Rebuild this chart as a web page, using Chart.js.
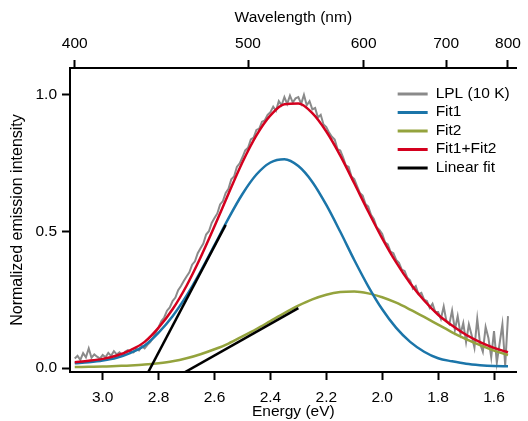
<!DOCTYPE html>
<html>
<head>
<meta charset="utf-8">
<script src="https://cdn.jsdelivr.net/npm/chart.js@4.4.1/dist/chart.umd.min.js"></script>
<style>
  html, body { margin: 0; padding: 0; background: #fff; }
  #wrap { width: 528px; height: 421px; }
</style>
</head>
<body>
<div id="wrap"><canvas id="chart" width="528" height="421"></canvas></div>
<script>
// ---- data (energy in eV, intensity normalized) ----
const LPL_ENERGY = [
  3.10, 3.09, 3.08, 3.07, 3.06, 3.05, 3.04, 3.03, 3.02, 3.01,
  3.00, 2.99, 2.98, 2.97, 2.96, 2.95, 2.94, 2.93, 2.92, 2.91,
  2.90, 2.89, 2.88, 2.87, 2.86, 2.85, 2.84, 2.83, 2.82, 2.81,
  2.80, 2.79, 2.78, 2.77, 2.76, 2.75, 2.74, 2.73, 2.72, 2.71,
  2.70, 2.69, 2.68, 2.67, 2.66, 2.65, 2.64, 2.63, 2.62, 2.61,
  2.60, 2.59, 2.58, 2.57, 2.56, 2.55, 2.54, 2.53, 2.52, 2.51,
  2.50, 2.49, 2.48, 2.47, 2.46, 2.45, 2.44, 2.43, 2.42, 2.41,
  2.40, 2.39, 2.38, 2.37, 2.36, 2.35, 2.34, 2.33, 2.32, 2.31,
  2.30, 2.29, 2.28, 2.27, 2.26, 2.25, 2.24, 2.23, 2.22, 2.21,
  2.20, 2.19, 2.18, 2.17, 2.16, 2.15, 2.14, 2.13, 2.12, 2.11,
  2.10, 2.09, 2.08, 2.07, 2.06, 2.05, 2.04, 2.03, 2.02, 2.01,
  2.00, 1.99, 1.98, 1.97, 1.96, 1.95, 1.94, 1.93, 1.92, 1.91,
  1.90, 1.89, 1.88, 1.87, 1.86, 1.85, 1.84, 1.83, 1.82, 1.81,
  1.80, 1.79, 1.78, 1.77, 1.76, 1.75, 1.74, 1.73, 1.72, 1.71,
  1.70, 1.69, 1.68, 1.67, 1.66, 1.65, 1.64, 1.63, 1.62, 1.61,
  1.60, 1.59, 1.58, 1.57, 1.56, 1.55
];
const LPL_VALUES = [
  0.035, 0.045, 0.030, 0.055, 0.040, 0.072, 0.038, 0.050, 0.042, 0.035,
  0.048, 0.040, 0.056, 0.045, 0.062, 0.050, 0.058, 0.047, 0.060, 0.066,
  0.060, 0.058, 0.070, 0.065, 0.080, 0.072, 0.085, 0.095, 0.110, 0.130,
  0.150, 0.172, 0.185, 0.210, 0.222, 0.245, 0.258, 0.285, 0.300, 0.318,
  0.335, 0.350, 0.378, 0.390, 0.420, 0.438, 0.455, 0.488, 0.500, 0.530,
  0.548, 0.565, 0.598, 0.610, 0.640, 0.655, 0.690, 0.700, 0.735, 0.748,
  0.770, 0.795, 0.805, 0.835, 0.842, 0.870, 0.875, 0.900, 0.905, 0.925,
  0.935, 0.955, 0.940, 0.975, 0.960, 0.990, 0.965, 0.995, 0.970, 0.985,
  0.990, 0.965, 0.998, 0.960, 0.975, 0.945, 0.950, 0.915, 0.925, 0.890,
  0.880, 0.860, 0.845, 0.835, 0.800, 0.795, 0.770, 0.740, 0.735, 0.700,
  0.690, 0.665, 0.640, 0.630, 0.600, 0.590, 0.560, 0.545, 0.515, 0.505,
  0.490, 0.460, 0.452, 0.425, 0.420, 0.395, 0.385, 0.360, 0.355, 0.330,
  0.320, 0.290, 0.300, 0.270, 0.275, 0.250, 0.245, 0.220, 0.235, 0.205,
  0.205, 0.180, 0.225, 0.170, 0.160, 0.210, 0.140, 0.190, 0.125, 0.165,
  0.095, 0.160, 0.120, 0.075, 0.180, 0.090, 0.060, 0.150, 0.110, 0.040,
  0.135, 0.020, 0.090, 0.160, 0.010, 0.190
];

const FIT_ENERGY = [
  3.10, 3.05, 3.00, 2.95, 2.90, 2.85, 2.80, 2.75, 2.70, 2.65, 2.60,
  2.55, 2.50, 2.45, 2.40, 2.35, 2.30, 2.25, 2.20, 2.15, 2.10, 2.05,
  2.00, 1.95, 1.90, 1.85, 1.80, 1.75, 1.70, 1.65, 1.60, 1.55
];
const FIT1_VALUES = [
  0.018, 0.022, 0.028, 0.038, 0.056, 0.083, 0.130, 0.190, 0.265, 0.353, 0.449,
  0.547, 0.636, 0.707, 0.751, 0.763, 0.738, 0.680, 0.596, 0.498, 0.395, 0.299,
  0.215, 0.147, 0.096, 0.060, 0.036, 0.025, 0.016, 0.011, 0.008, 0.007
];
const FIT2_VALUES = [
  0.004, 0.005, 0.006, 0.008, 0.010, 0.013, 0.018, 0.025, 0.036, 0.051, 0.069,
  0.090, 0.116, 0.143, 0.172, 0.201, 0.228, 0.251, 0.268, 0.278, 0.280, 0.273,
  0.259, 0.239, 0.214, 0.187, 0.159, 0.131, 0.106, 0.084, 0.064, 0.048
];
const FIT_SUM_VALUES = [
  0.022, 0.027, 0.034, 0.046, 0.066, 0.096, 0.148, 0.215, 0.301, 0.404, 0.518,
  0.637, 0.752, 0.850, 0.923, 0.964, 0.966, 0.931, 0.864, 0.776, 0.675, 0.572,
  0.474, 0.386, 0.310, 0.247, 0.195, 0.156, 0.122, 0.095, 0.074, 0.058
];

// two tangent lines: [energy, intensity] end points
const LINEAR_FIT_A = [[2.84, -0.02], [2.56, 0.523]];
const LINEAR_FIT_B = [[2.715, -0.02], [2.30, 0.219]];

const ENERGY_TICKS = [3.0, 2.8, 2.6, 2.4, 2.2, 2.0, 1.8, 1.6];
const WAVELENGTH_TICKS = [400, 500, 600, 700, 800];
const INTENSITY_TICKS = [0.0, 0.5, 1.0];

const COLORS = {
  lpl: '#8a8a8a',
  fit1: '#1b75a9',
  fit2: '#94a33d',
  sum: '#d4001e',
  linear: '#000000',
  axis: '#000000',
};

const FONT = '"Liberation Sans", Arial, sans-serif';
const HC = 1240; // eV*nm

function toPoints(xs, ys) {
  return xs.map((x, i) => ({ x, y: ys[i] }));
}
function pairPoints(pairs) {
  return pairs.map(p => ({ x: p[0], y: p[1] }));
}

function lineSet(label, data, color, width, order, smooth) {
  return {
    label,
    data,
    borderColor: color,
    backgroundColor: color,
    borderWidth: width,
    pointRadius: 0,
    fill: false,
    order,
    tension: smooth ? 0.4 : 0,
    cubicInterpolationMode: smooth ? 'monotone' : 'default',
  };
}

// legend drawn inside the plot area, top right
const insideLegend = {
  id: 'insideLegend',
  afterDatasetsDraw(chart) {
    const ctx = chart.ctx;
    const area = chart.chartArea;
    const seen = [];
    chart.data.datasets.forEach(ds => {
      if (!seen.find(s => s.label === ds.label)) seen.push(ds);
    });
    ctx.save();
    ctx.font = '15.5px ' + FONT;
    ctx.textBaseline = 'middle';
    ctx.textAlign = 'left';
    seen.forEach((ds, i) => {
      const y = area.top + 26 + i * 18.5;
      const x = area.right - 119;
      ctx.beginPath();
      ctx.moveTo(x, y);
      ctx.lineTo(x + 30, y);
      ctx.lineWidth = 3;
      ctx.strokeStyle = ds.borderColor;
      ctx.stroke();
      ctx.fillStyle = '#000';
      ctx.fillText(ds.label, x + 38, y - 0.5);
    });
    ctx.restore();
  },
};

function axisStyle(tickPad) {
  return {
    grid: {
      drawOnChartArea: false,
      drawTicks: true,
      tickLength: 8,
      tickWidth: 2,
      tickColor: COLORS.axis,
    },
    border: { display: true, color: COLORS.axis, width: 2 },
    ticks: {
      color: '#000',
      padding: tickPad,
      font: { family: FONT, size: 15.5 },
      maxRotation: 0,
      autoSkip: false,
    },
  };
}

const X_MIN = 1.519, X_MAX = 3.117;

const bottomAxis = axisStyle(8);
Object.assign(bottomAxis, {
  type: 'linear',
  position: 'bottom',
  reverse: true,
  min: X_MIN,
  max: X_MAX,
  afterBuildTicks: s => { s.ticks = ENERGY_TICKS.map(v => ({ value: v })); },
  afterFit: s => { s.height = 49; },
  title: {
    display: true, text: 'Energy (eV)', color: '#000',
    font: { family: FONT, size: 15.5 }, padding: { top: 0, bottom: 0 },
  },
});
bottomAxis.ticks.callback = v => v.toFixed(1);

const topAxis = axisStyle(7);
Object.assign(topAxis, {
  type: 'linear',
  position: 'top',
  reverse: true,
  min: X_MIN,
  max: X_MAX,
  afterBuildTicks: s => { s.ticks = WAVELENGTH_TICKS.map(nm => ({ value: HC / nm })); },
  afterFit: s => { s.height = 68; },
  title: {
    display: true, text: 'Wavelength (nm)', color: '#000',
    font: { family: FONT, size: 15.5 }, padding: { top: 8.5, bottom: 0 },
  },
});
topAxis.ticks.callback = v => String(Math.round(HC / v));

const leftAxis = axisStyle(5);
Object.assign(leftAxis, {
  type: 'linear',
  position: 'left',
  min: -0.014,
  max: 1.096,
  afterBuildTicks: s => { s.ticks = INTENSITY_TICKS.map(v => ({ value: v })); },
  afterFit: s => { s.width = 70; },
  title: {
    display: true, text: 'Normalized emission intensity', color: '#000',
    font: { family: FONT, size: 16 }, padding: { top: 8, bottom: 0 },
  },
});
leftAxis.ticks.callback = v => v.toFixed(1);

new Chart(document.getElementById('chart'), {
  type: 'line',
  data: {
    datasets: [
      lineSet('LPL (10 K)', toPoints(LPL_ENERGY, LPL_VALUES), COLORS.lpl, 2, 5, false),
      lineSet('Fit1', toPoints(FIT_ENERGY, FIT1_VALUES), COLORS.fit1, 2.5, 3, true),
      lineSet('Fit2', toPoints(FIT_ENERGY, FIT2_VALUES), COLORS.fit2, 2.5, 4, true),
      lineSet('Fit1+Fit2', toPoints(FIT_ENERGY, FIT_SUM_VALUES), COLORS.sum, 2.5, 2, true),
      lineSet('Linear fit', pairPoints(LINEAR_FIT_A), COLORS.linear, 2.5, 1, false),
      lineSet('Linear fit', pairPoints(LINEAR_FIT_B), COLORS.linear, 2.5, 1, false),
    ],
  },
  options: {
    responsive: false,
    devicePixelRatio: 1,
    animation: false,
    parsing: true,
    layout: { padding: { left: 0, right: 4, top: 0, bottom: 0 } },
    plugins: {
      legend: { display: false },
      tooltip: { enabled: false },
    },
    scales: {
      x: bottomAxis,
      x2: topAxis,
      y: leftAxis,
    },
  },
  plugins: [insideLegend],
});
</script>
</body>
</html>
